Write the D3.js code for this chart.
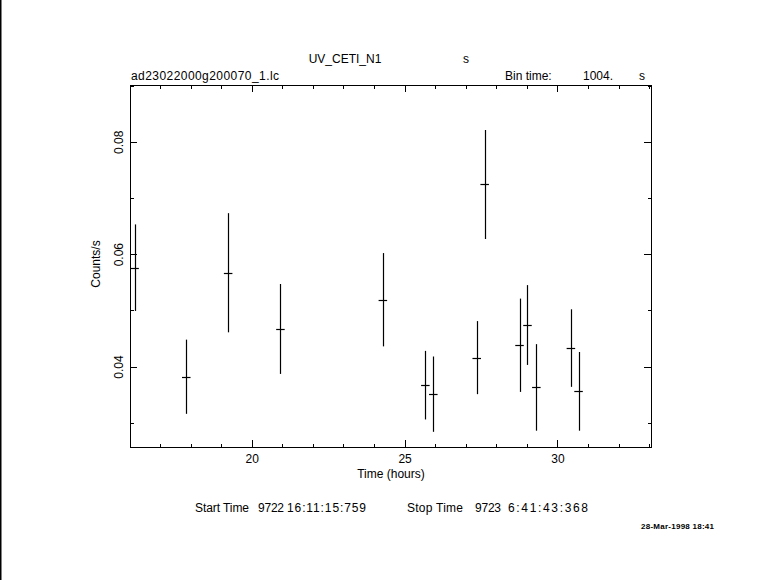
<!DOCTYPE html>
<html>
<head>
<meta charset="utf-8">
<script src="https://cdn.jsdelivr.net/npm/d3@7"></script>
<style>
  html, body { margin: 0; padding: 0; background: #fff; }
  svg { display: block; }
  text { font-family: "Liberation Sans", Arial, sans-serif; fill: #000; }
</style>
</head>
<body>
<script>
// ---- data ----
const times = [16.17, 17.86, 19.23, 20.94, 24.29, 25.68, 25.94, 27.36, 27.62, 28.76, 29.02, 29.31, 30.44, 30.69];
const rates = [0.0576, 0.0382, 0.0567, 0.0467, 0.0519, 0.0367, 0.0351, 0.0416, 0.0724, 0.0438, 0.0474, 0.0363, 0.0433, 0.0356];
const rateErrs = [0.0077, 0.0066, 0.0106, 0.0080, 0.0083, 0.0061, 0.0067, 0.0065, 0.0097, 0.0083, 0.0071, 0.0077, 0.0069, 0.0070];
const binHalfHours = 1004 / 2 / 3600;
const xMajorTicks = [20, 25, 30];
const xMinorTicks = [17, 18, 19, 21, 22, 23, 24, 26, 27, 28, 29, 31, 32, 33];
const yMajorTicks = [0.04, 0.06, 0.08];
const yMinorTicks = [0.03, 0.05, 0.07, 0.09];
const yTickLabels = ["0.04", "0.06", "0.08"];

const W = 781, H = 580;
const L = 130, R = 651, T = 85, B = 447;

const svg = d3.select("body").append("svg").attr("width", W).attr("height", H);
svg.append("rect").attr("width", W).attr("height", H).attr("fill", "#fff");
// left border line
svg.append("line").attr("x1", 0.5).attr("x2", 0.5).attr("y1", 0).attr("y2", H)
  .attr("stroke", "#000").attr("stroke-width", 2);

const x = d3.scaleLinear().domain([16.02, 33.06]).range([L, R]);
const y = d3.scaleLinear().domain([0.0257, 0.0901]).range([B, T]);

function styleAxis(g) {
  g.selectAll("path").remove();
  g.selectAll("line").attr("stroke", "#000").attr("stroke-width", 1).attr("shape-rendering", "crispEdges");
  g.selectAll("text").attr("font-size", 12).attr("font-family", "Liberation Sans, Arial, sans-serif").attr("fill", "#000");
}

// bottom axis
svg.append("g").attr("transform", `translate(0,${B})`)
  .call(d3.axisBottom(x).tickValues(xMajorTicks).tickSizeInner(-7).tickSizeOuter(0).tickPadding(7).tickFormat(d3.format("d")))
  .call(styleAxis);
svg.append("g").attr("transform", `translate(0,${B})`)
  .call(d3.axisBottom(x).tickValues(xMinorTicks).tickSizeInner(-3.5).tickSizeOuter(0).tickFormat(""))
  .call(styleAxis);
// top axis
svg.append("g").attr("transform", `translate(0,${T})`)
  .call(d3.axisTop(x).tickValues(xMajorTicks).tickSizeInner(-7).tickSizeOuter(0).tickFormat(""))
  .call(styleAxis);
svg.append("g").attr("transform", `translate(0,${T})`)
  .call(d3.axisTop(x).tickValues(xMinorTicks).tickSizeInner(-3.5).tickSizeOuter(0).tickFormat(""))
  .call(styleAxis);
// left axis
const yl = svg.append("g").attr("transform", `translate(${L},0)`)
  .call(d3.axisLeft(y).tickValues(yMajorTicks).tickSizeInner(-7).tickSizeOuter(0)
    .tickFormat((d, i) => yTickLabels[i]))
  .call(styleAxis);
yl.selectAll("text")
  .attr("x", null).attr("dy", null)
  .attr("text-anchor", "middle")
  .attr("transform", "translate(-7,0) rotate(-90)");
svg.append("g").attr("transform", `translate(${L},0)`)
  .call(d3.axisLeft(y).tickValues(yMinorTicks).tickSizeInner(-3.5).tickSizeOuter(0).tickFormat(""))
  .call(styleAxis);
// right axis
svg.append("g").attr("transform", `translate(${R},0)`)
  .call(d3.axisRight(y).tickValues(yMajorTicks).tickSizeInner(-7).tickSizeOuter(0).tickFormat(""))
  .call(styleAxis);
svg.append("g").attr("transform", `translate(${R},0)`)
  .call(d3.axisRight(y).tickValues(yMinorTicks).tickSizeInner(-3.5).tickSizeOuter(0).tickFormat(""))
  .call(styleAxis);

// frame
svg.append("rect").attr("x", L + 0.5).attr("y", T + 0.5).attr("width", R - L).attr("height", B - T)
  .attr("fill", "none").attr("stroke", "#000").attr("stroke-width", 1).attr("shape-rendering", "crispEdges");

// data marks
svg.append("clipPath").attr("id", "plotclip")
  .append("rect").attr("x", L).attr("y", T).attr("width", R - L + 1).attr("height", B - T + 1);
const pts = svg.append("g").attr("clip-path", "url(#plotclip)");
const data = times.map((t, i) => ({ t, r: rates[i], e: rateErrs[i] }));
pts.selectAll("line.v").data(data).join("line").attr("class", "v")
  .attr("x1", d => Math.round(x(d.t)) + 0.5).attr("x2", d => Math.round(x(d.t)) + 0.5)
  .attr("y1", d => y(d.r + d.e)).attr("y2", d => y(d.r - d.e))
  .attr("stroke", "#000").attr("stroke-width", 1.2);
pts.selectAll("line.h").data(data).join("line").attr("class", "h")
  .attr("x1", d => x(d.t - binHalfHours)).attr("x2", d => x(d.t + binHalfHours))
  .attr("y1", d => Math.round(y(d.r)) + 0.5).attr("y2", d => Math.round(y(d.r)) + 0.5)
  .attr("stroke", "#000").attr("stroke-width", 1.2);

// texts
function txt(s, xx, yy, opts = {}) {
  const t = svg.append("text").attr("x", xx).attr("y", yy).text(s)
    .attr("font-size", opts.size || 12)
    .attr("text-anchor", opts.anchor || "start")
    .style("white-space", "pre");
  if (opts.weight) t.attr("font-weight", opts.weight);
  if (opts.transform) t.attr("transform", opts.transform);
  if (opts.len) t.attr("textLength", opts.len).attr("lengthAdjust", "spacing");
  return t;
}
txt("UV_CETI_N1", 345, 63, { anchor: "middle" });
txt("s", 466, 63, { anchor: "middle" });
txt("ad23022000g200070_1.lc", 131, 80, { len: 148 });
txt("Bin time:", 505, 80);
txt("1004.", 583, 80);
txt("s", 642, 80, { anchor: "middle" });
txt("Counts/s", 0, 0, { anchor: "middle", transform: "translate(100,264) rotate(-90)" });
txt("Time (hours)", 391, 478, { anchor: "middle" });
txt("Start Time", 195, 512, { len: 54 });
txt("9722", 258, 512, { len: 26 });
txt("16:11:15:759", 287, 512, { len: 79 });
txt("Stop Time", 407, 512, { len: 56 });
txt("9723", 475, 512, { len: 26 });
txt("6:41:43:368", 508, 512, { len: 80 });
txt("28-Mar-1998 18:41", 641, 529, { size: 8, weight: "bold", len: 73 });
</script>
</body>
</html>
